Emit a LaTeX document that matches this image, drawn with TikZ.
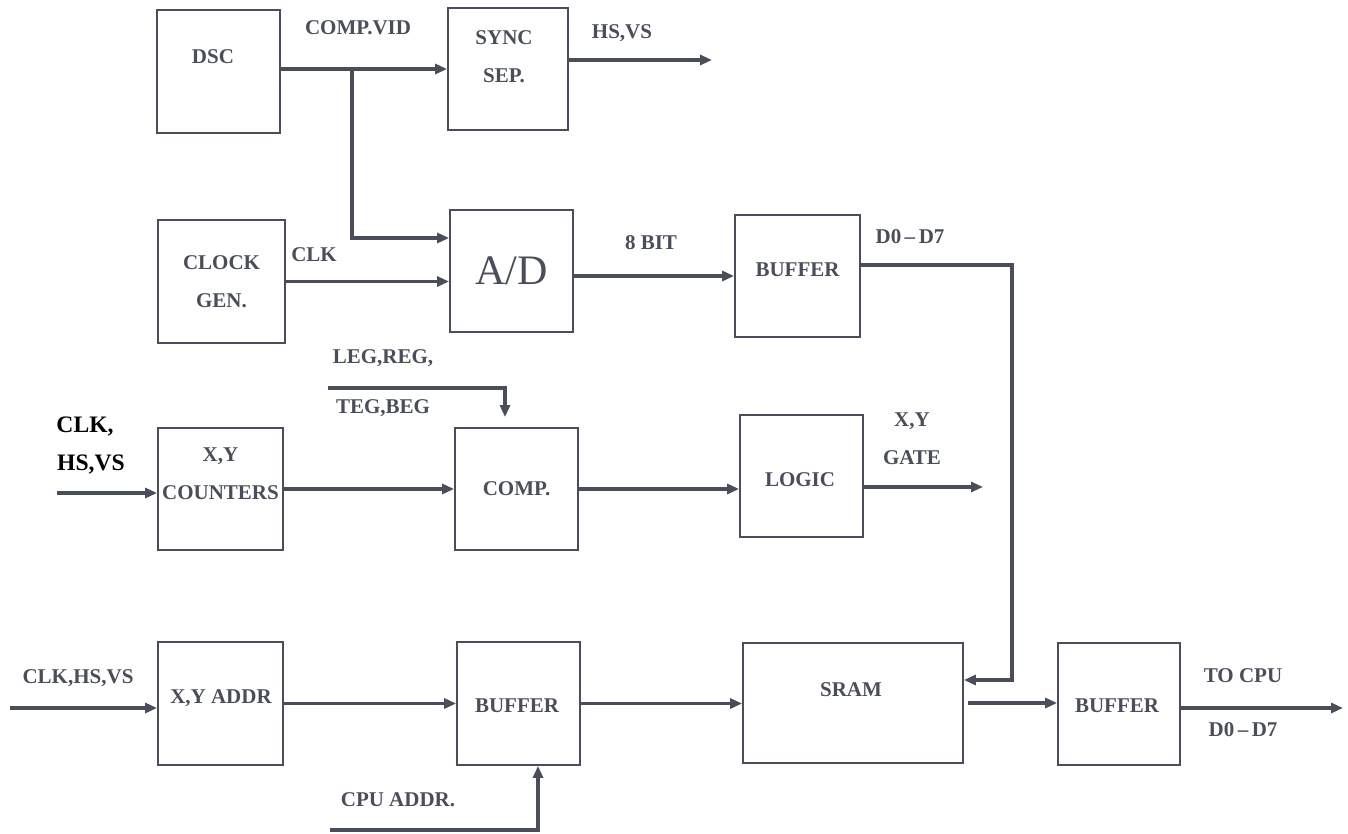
\documentclass[tikz,border=0pt]{standalone}
\usepackage{fontspec}
\setmainfont{Liberation Serif}
\definecolor{ink}{RGB}{74, 78, 90}
\usetikzlibrary{arrows.meta, positioning, calc}

\begin{document}
\begin{tikzpicture}[x=0.5pt, y=-0.5pt,
    blk/.style={draw=ink, line width=0.9pt, inner sep=0pt, text=ink,
      font=\bfseries\fontsize{10.5}{19}\selectfont, align=center},
    txt/.style={inner sep=0pt, text=ink, font=\bfseries\fontsize{10.5}{19}\selectfont, align=center},
    sig/.style={draw=ink, line width=1.8pt, -{Triangle[length=6pt, width=5pt]}},
    bus/.style={draw=ink, line width=1.8pt}]
    \useasboundingbox (0,0) rectangle (1348,834);

    % top row
    \node[blk, minimum width=61.5pt, minimum height=61.5pt] (dsc) at (218.5,71.5) {};
    \node[txt] (dsct) at (213,57) {DSC};
    \node[blk, minimum width=60pt, minimum height=61pt] (sync) at (508,69) {};
    \node[txt] (synct) at (504,56.5) {SYNC\\SEP.};

    % second row
    \node[blk, minimum width=63.5pt, minimum height=61.5pt] (clk) at (221.5,281.5) {CLOCK\\GEN.};
    \node[blk, minimum width=61.5pt, minimum height=61pt,
      font=\fontsize{21}{24}\selectfont] (ad) at (511.5,271) {A/D};
    \node[blk, minimum width=62.5pt, minimum height=61pt] (buf1) at (797.5,276) {};
    \node[txt] (buf1t) at (797.5,270) {BUFFER};

    % third row
    \node[blk, minimum width=62.5pt, minimum height=61pt] (cnt) at (220.5,489) {};
    \node[txt] (cntt) at (220.5,473.5) {X,Y\\COUNTERS};
    \node[blk, minimum width=61.5pt, minimum height=61pt] (comp) at (516.5,489) {COMP.};
    \node[blk, minimum width=61.5pt, minimum height=61pt] (logic) at (801.5,476) {};
    \node[txt] (logict) at (800,480) {LOGIC};

    % bottom row
    \node[blk, minimum width=62.5pt, minimum height=61.5pt] (addr) at (220.5,703.5) {};
    \node[txt] (addrt) at (221,698) {X,Y ADDR};
    \node[blk, minimum width=61.5pt, minimum height=61.5pt] (buf2) at (518.5,703.5) {};
    \node[txt] (buf2t) at (517,706) {BUFFER};
    \node[blk, minimum width=110pt, minimum height=60pt] (sram) at (853,703) {};
    \node[txt] (sramt) at (851,690) {SRAM};
    \node[blk, minimum width=61pt, minimum height=61pt] (buf3) at (1119,704) {};
    \node[txt] (buf3t) at (1117,706) {BUFFER};

    % free ends
    \coordinate (tap) at (352,69);
    \coordinate (hsout) at (712,60);
    \coordinate (dbus) at (1012,265);
    \coordinate (egin) at (328,388);
    \coordinate (cntin) at (57,493);
    \coordinate (gateout) at (983,487);
    \coordinate (addrin) at (10,708);
    \coordinate (cpuin) at (330,830);
    \coordinate (cpuout) at (1343,708);

    % connectors
    \draw[sig] (dsc.east |- sync.west) -- (sync.west);
    \draw[sig] (tap) |- ([yshift=16.5pt]ad.west);
    \draw[sig] ([yshift=4.5pt]sync.east) -- (hsout);
    \draw[sig] (clk.east) -- (clk.east -| ad.west);
    \draw[sig] (ad.east |- buf1.west) -- (buf1.west);
    \draw[sig] (buf1.east |- dbus) -- (dbus) |- ([yshift=11.5pt]sram.east);
    \draw[sig] (egin) -| ([xshift=-5.75pt, yshift=5pt]comp.north);
    \draw[sig] (cntin) -- (cntin -| cnt.west);
    \draw[sig] (cnt.east) -- (comp.west);
    \draw[sig] (comp.east) -- (comp.east -| logic.west);
    \draw[sig] (logic.east |- gateout) -- (gateout);
    \draw[sig] (addrin) -- (addrin -| addr.west);
    \draw[sig] (addr.east) -- (buf2.west);
    \draw[sig] (buf2.east) -- (buf2.east -| sram.west);
    \draw[sig] ([xshift=2pt]sram.east) -- (sram.east -| buf3.west);
    \draw[sig] (buf3.east |- cpuout) -- (cpuout);
    \draw[sig] (cpuin) -| ([xshift=9.75pt]buf2.south);

    % signal labels
    \node[txt] (compvid) at (358,28) {COMP.VID};
    \node[txt] (hsvs) at (622,33) {HS,VS};
    \node[txt] (clklbl) at (314,255) {CLK};
    \node[txt] (bits) at (651,243) {8 BIT};
    \node[txt] (dlbl) at (910,237) {D0\,--\,D7};
    \node[txt] (leg) at (383,358) {LEG,REG,};
    \node[txt] (teg) at (383,408) {TEG,BEG};
    \node[txt, text=black, font=\bfseries\fontsize{11.8}{19}\selectfont] (clkin) at (85,427) {CLK,};
    \node[txt, text=black, font=\bfseries\fontsize{11.8}{19}\selectfont] (hsin) at (91,465) {HS,VS};
    \node[txt] (xy) at (912,421) {X,Y};
    \node[txt] (gate) at (912,458) {GATE};
    \node[txt] (addrlbl) at (78,678) {CLK,HS,VS};
    \node[txt] (cpulbl) at (398,800) {CPU ADDR.};
    \node[txt] (tocpu) at (1243,676) {TO CPU};
    \node[txt] (dout) at (1243,730) {D0\,--\,D7};
\end{tikzpicture}
\end{document}
